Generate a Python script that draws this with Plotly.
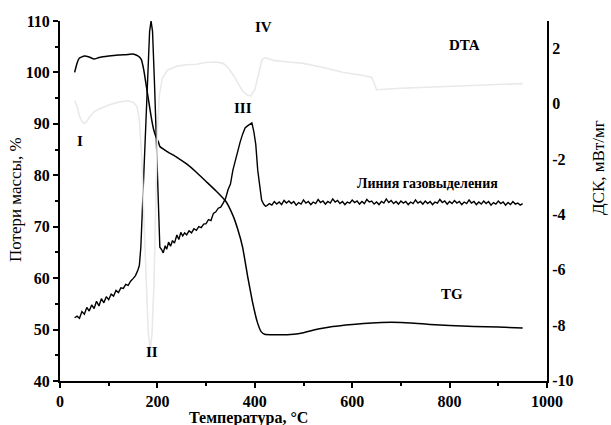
import plotly.graph_objects as go

# ---- Data ----
# TG (mass loss, %), left axis
tg_t = [30, 35, 40, 50, 60, 70, 80, 100, 120, 140, 150, 160, 167, 172, 177, 182, 187, 192, 197, 202, 205,
        220, 240, 260, 280, 300, 320, 340, 355, 365, 375, 385, 395, 405, 413, 420, 440, 480, 500, 530,
        560, 600, 640, 680, 720, 760, 800, 850, 900, 950]
tg_v = [100.0, 101.8, 102.8, 103.2, 103.0, 102.6, 102.9, 103.2, 103.4, 103.5, 103.6, 103.2, 102.5, 100.5,
        97.5, 94.5, 91.5, 89.0, 87.5, 86.5, 85.6,
        84.6, 83.5, 82.2, 80.6, 78.8, 77.0, 75.0, 72.2, 69.5, 66.0, 60.5, 55.5, 51.5, 49.6, 49.1, 49.0,
        49.1, 49.4, 50.1, 50.6, 51.0, 51.3, 51.4, 51.3, 51.0, 50.8, 50.6, 50.5, 50.3]

# Gas evolution line, left axis
gas_t = [30, 35, 40, 45, 50, 55, 60, 65, 70, 75, 80, 85, 90, 95, 100, 105, 110, 115, 120, 125, 130, 135,
         140, 145, 150, 155, 160, 163, 166, 170, 175, 180, 184, 187, 190, 194, 198, 202, 205, 209, 212,
         216, 219, 223, 227, 231, 235, 240, 244, 248, 252, 256, 260, 265, 270, 275, 280, 285, 290, 295,
         300, 305, 310, 315, 320, 325, 330, 335, 340, 345, 350, 355, 360, 365, 370, 375, 380, 385, 390,
         394, 398, 402, 406, 410, 414, 418, 422,
         425, 430, 435, 440, 445, 450, 455, 460, 465, 470, 475, 480, 485, 490, 495, 500, 505, 510, 515,
         520, 525, 530, 535, 540, 545, 550, 555, 560, 565, 570, 575, 580, 585, 590, 595, 600, 605, 610,
         615, 620, 625, 630, 635, 640, 645, 650, 655, 660, 665, 670, 675, 680, 685, 690, 695, 700, 705,
         710, 715, 720, 725, 730, 735, 740, 745, 750, 755, 760, 765, 770, 775, 780, 785, 790, 795, 800,
         805, 810, 815, 820, 825, 830, 835, 840, 845, 850, 855, 860, 865, 870, 875, 880, 885, 890, 895,
         900, 905, 910, 915, 920, 925, 930, 935, 940, 945, 950]
gas_v = [52.3, 52.6, 52.2, 53.5, 53.0, 54.3, 53.6, 54.8, 54.1, 55.5, 54.6, 56.0, 55.2, 56.4, 55.8, 56.9,
         56.5, 57.6, 57.2, 58.1, 58.0, 58.8, 58.6, 59.4, 59.9, 60.5, 61.6, 62.5, 66.0, 75.0, 88.0, 100.0,
         108.0, 110.0, 108.0, 98.0, 85.0, 72.0, 66.0, 65.5, 64.9,
         66.3, 65.6, 67.0, 66.2, 67.3, 66.8, 68.4, 67.5, 68.9, 68.2, 68.8, 68.4, 69.2, 68.8, 69.6, 69.3,
         70.0, 69.8, 70.5, 70.6, 71.4, 71.2, 72.6, 72.9, 73.6, 73.8, 74.6, 75.5, 77.2, 78.3, 81.0, 83.0,
         84.5, 86.5, 88.0, 89.2, 89.6, 90.0, 90.2, 88.5, 86.0, 81.0, 77.5, 75.2, 74.4, 74.0,
         74.1, 74.5, 74.2, 74.9, 74.4, 74.8, 74.3, 75.1, 74.6, 75.0, 74.5, 74.9, 74.2, 74.7, 74.4, 75.2,
         74.6, 74.9, 74.3, 74.8, 74.5, 75.3, 74.7, 75.0, 74.4, 74.9, 74.6, 75.4, 74.8, 75.1, 74.5, 74.9,
         74.3, 74.8, 74.6, 75.2, 74.7, 75.0, 74.4, 74.9, 74.5, 75.3, 74.8, 75.0, 74.4, 74.8, 74.3, 74.9,
         74.6, 75.4, 74.7, 75.1, 74.5, 74.9, 74.4, 75.0, 74.6, 74.9, 74.3, 74.8, 74.5, 75.2, 74.6, 74.9,
         74.4, 75.0, 74.5, 74.9, 74.3, 74.8, 74.6, 75.3, 74.7, 75.0, 74.4, 74.9, 74.5, 75.1, 74.6, 74.9,
         74.3, 74.8, 74.5, 75.2, 74.6, 74.9, 74.3, 74.8, 74.4, 75.0, 74.5, 74.9, 74.2, 74.7, 74.4, 75.0,
         74.5, 74.8, 74.2, 74.7, 74.3, 74.9, 74.4, 74.6, 74.2, 74.5]

# DTA / DSC signal (mW/mg), right axis
dta_t = [30, 35, 40, 45, 50, 55, 60, 70, 80, 100, 120, 140, 150, 158, 163, 168, 172, 177, 181, 185, 189,
         193, 197, 200, 204, 210, 220, 240, 260, 280, 300, 320, 335, 345, 355, 365, 375, 385, 392, 400,
         408, 415, 422, 440, 470, 500, 540, 580, 620, 640, 645, 650, 700, 800, 900, 950]
dta_v = [0.1, -0.1, -0.45, -0.65, -0.72, -0.65, -0.5, -0.3, -0.2, -0.05, 0.05, 0.1, 0.05, -0.1, -0.6,
         -2.0, -4.0, -6.5, -8.2, -8.9, -8.3, -6.5, -3.5, -1.0, 0.3, 0.9, 1.2, 1.35, 1.4, 1.42, 1.48, 1.5,
         1.45, 1.3, 1.05, 0.75, 0.45, 0.3, 0.28, 0.5, 1.1, 1.6, 1.65, 1.55, 1.5, 1.45, 1.3, 1.13, 1.02,
         0.95, 0.75, 0.5, 0.55, 0.62, 0.7, 0.72]

x_ticks = [0, 200, 400, 600, 800, 1000]
left_ticks = [40, 50, 60, 70, 80, 90, 100, 110]
right_ticks = [-10, -8, -6, -4, -2, 0, 2]

labels = ["I", "II", "III", "IV", "DTA", "TG", "Линия газовыделения"]
label_x = [41, 189, 376, 417, 830, 805, 754]
label_y = [86.7, 45.6, 93.1, 108.8, 105.3, 57.0, 78.5]

SERIF = "Liberation Serif, Times New Roman, serif"


def bold(vals):
    return ["<b>%s</b>" % v for v in vals]


fig = go.Figure()
fig.add_trace(go.Scatter(x=dta_t, y=dta_v, mode="lines", yaxis="y2",
                         line=dict(color="#e9e9e9", width=1.6), showlegend=False))
fig.add_trace(go.Scatter(x=tg_t, y=tg_v, mode="lines",
                         line=dict(color="black", width=1.5, shape="spline", smoothing=0.4),
                         showlegend=False))
fig.add_trace(go.Scatter(x=gas_t, y=gas_v, mode="lines",
                         line=dict(color="black", width=1.4), showlegend=False))

tickfont = dict(family=SERIF, size=16, color="black")

fig.update_layout(
    width=611, height=425,
    margin=dict(l=60, r=64, t=21, b=44),
    paper_bgcolor="white", plot_bgcolor="white",
    xaxis=dict(range=[0, 1000], tickvals=x_ticks, ticktext=bold(x_ticks), showgrid=False,
               zeroline=False, showline=True, linecolor="black", linewidth=2,
               ticks="outside", ticklen=5, tickwidth=1.5, tickcolor="black",
               minor=dict(dtick=100, ticks="outside", ticklen=3, tickwidth=1.5, tickcolor="black"),
               tickfont=tickfont),
    yaxis=dict(range=[40, 110], tickvals=left_ticks, ticktext=bold(left_ticks), showgrid=False,
               zeroline=False, showline=True, linecolor="black", linewidth=2,
               ticks="outside", ticklen=5, tickwidth=1.5, tickcolor="black",
               minor=dict(dtick=5, ticks="outside", ticklen=3, tickwidth=1.5, tickcolor="black"),
               tickfont=tickfont),
    yaxis2=dict(range=[-10.02, 2.98], tickvals=right_ticks, ticktext=bold(right_ticks),
                overlaying="y", side="right",
                showgrid=False, zeroline=False, showline=True, linecolor="black", linewidth=2,
                ticks="", tickfont=tickfont),
)

for txt, x, y in zip(labels, label_x, label_y):
    fig.add_annotation(x=x, y=y, xref="x", yref="y", text="<b>%s</b>" % txt, showarrow=False,
                       font=dict(family=SERIF, size=15 if len(txt) < 5 else 14, color="black"))

# axis titles
fig.add_annotation(x=-45 / 487, y=(381 - 200) / 360, xref="paper", yref="paper",
                   xanchor="center", yanchor="middle",
                   text="Потери массы, %", textangle=-90, showarrow=False,
                   font=dict(family=SERIF, size=17, color="black"))
fig.add_annotation(x=(598 - 60) / 487, y=(381 - 168) / 360, xref="paper", yref="paper",
                   xanchor="center", yanchor="middle",
                   text="ДСК, мВт/мг", textangle=-90, showarrow=False,
                   font=dict(family=SERIF, size=17, color="black"))
fig.add_annotation(x=(248 - 60) / 487, y=(381 - 418) / 360, xref="paper", yref="paper",
                   xanchor="center", yanchor="middle",
                   text="<b>Температура, °С</b>", showarrow=False,
                   font=dict(family=SERIF, size=16, color="black"))

fig.write_html("out.html")
